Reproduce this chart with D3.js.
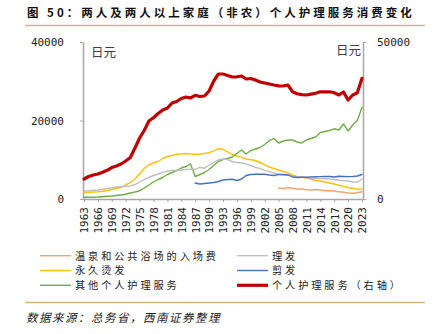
<!DOCTYPE html>
<html>
<head>
<meta charset="utf-8">
<script src="https://cdn.jsdelivr.net/npm/d3@7"></script>
<style>
  html, body { margin: 0; padding: 0; background: #fff; }
  svg { display: block; }
  .axis path, .axis line { stroke: #a6a6a6; }
  .axis text { font-family: "DejaVu Sans Mono", monospace; font-size: 11px; fill: #222; }
</style>
</head>
<body>
<div id="chart"></div>
<script>
"use strict";

// years on the category axis
var years = d3.range(1963, 2024);
var tickYears = years.filter(function(y) { return (y - 1963) % 3 === 0; });

// 日元; each series starts at its own year
var bathStart = 2005;
var bath = [2730,2680,2850,2730,2550,2550,2370,2290,2420,2290,2110,2090,2040,1830,1710,1530,1480,1580,1860];

var haircutStart = 1963;
var haircut = [2040,2110,2220,2290,2470,2680,2850,3060,3160,3260,3310,3690,4330,4970,5530,5990,6370,6800,7140,7260,
  7260,7390,7520,7570,7570,8080,7820,8660,9300,9940,10190,10060,9550,9300,9170,8920,8540,8080,7720,7310,
  6960,6620,6290,6120,6070,5860,5660,5530,5430,5300,5220,5220,5170,5100,4970,4770,4710,4590,4330,4280,5100];

var permStart = 1963;
var perm = [1660,1710,1780,1860,1990,2170,2420,2680,2980,3570,4200,5100,6370,7770,8710,9170,9550,10320,10830,11080,
  11420,11470,11590,11470,11390,11390,11640,11800,12230,12870,12610,11980,11340,10960,10620,10190,10010,9810,9300,8740,
  8150,7770,7390,7010,6680,6120,5730,5610,5350,5020,4710,4590,4330,4080,3820,3490,3240,2880,2730,2550,2470];

var cutStart = 1987;
var cut = [4080,3820,3950,4080,4200,4460,4840,4970,5020,4710,5100,5990,6240,6290,6290,6290,6120,5990,6240,6240,
  6120,5610,5480,5530,5560,5610,5660,5690,5730,5730,5610,5790,5730,5690,5730,5860,6240];

var otherStart = 1963;
var other = [430,430,460,510,590,690,760,890,1020,1200,1530,1780,2110,2800,3570,4330,4970,5480,6240,6750,
  7260,7900,8280,8920,5730,6240,6750,7520,8540,9550,10060,10320,10700,11590,12480,11470,12360,12740,13120,13890,
  14900,15420,14270,14780,15030,15030,14520,14270,15030,15420,15800,16940,17200,17450,17890,17580,19110,17330,18850,20000,23360];

// right axis
var totalStart = 1963;
var total = [6370,7170,7640,7960,8500,9140,10030,10510,11150,12100,13220,16240,19430,21820,24840,25890,27230,28350,28980,30580,
  31050,32010,32490,32170,33030,32650,32800,34400,37580,39810,39810,39330,38860,38920,39180,38220,38380,37900,37260,36950,
  36630,36310,36050,35990,36310,34180,33510,33250,33120,33380,33670,34140,34140,34140,33820,33120,34080,31530,33120,33820,38440];

var leftTicks = [0, 20000, 40000];
var rightTicks = [0, 50000];

var title = "图 50：两人及两人以上家庭（非农）个人护理服务消费变化";
var unitLabel = "日元";
var sourceText = "数据来源：总务省，西南证券整理";

var series = [
  {name: "温泉和公共浴场的入场费", start: bathStart, values: bath, color: "#f4a26b", width: 1.4, axis: "left"},
  {name: "永久烫发", start: permStart, values: perm, color: "#ffc000", width: 1.4, axis: "left"},
  {name: "其他个人护理服务", start: otherStart, values: other, color: "#70ad47", width: 1.4, axis: "left"},
  {name: "理发", start: haircutStart, values: haircut, color: "#bfbfbf", width: 1.4, axis: "left"},
  {name: "剪发", start: cutStart, values: cut, color: "#4472c4", width: 1.4, axis: "left"},
  {name: "个人护理服务（右轴）", start: totalStart, values: total, color: "#c00000", width: 3.2, axis: "right"}
];

var W = 434, H = 334;
var svg = d3.select("#chart").append("svg")
  .attr("width", W)
  .attr("height", H);

var x = d3.scalePoint().domain(years).range([84, 362]);
var yL = d3.scaleLinear().domain([0, 40000]).range([199, 42]);
var yR = d3.scaleLinear().domain([0, 50000]).range([199, 42]);

// title + rules
svg.append("text")
  .attr("x", 27)
  .attr("y", 17)
  .attr("font-family", "'Noto Sans CJK SC', sans-serif")
  .attr("font-weight", "bold")
  .attr("font-size", 11.5)
  .attr("letter-spacing", 3)
  .attr("fill", "#111")
  .text(title);

svg.append("line")
  .attr("x1", 25).attr("x2", 425)
  .attr("y1", 25.5).attr("y2", 25.5)
  .attr("stroke", "#d4b483")
  .attr("stroke-width", 1.5);

svg.append("line")
  .attr("x1", 25).attr("x2", 425)
  .attr("y1", 302.5).attr("y2", 302.5)
  .attr("stroke", "#d4b483")
  .attr("stroke-width", 1.5);

// axes
var gl = svg.append("g")
  .attr("class", "axis")
  .attr("transform", "translate(83,0)")
  .call(d3.axisLeft(yL).tickValues(leftTicks).tickSize(3).tickPadding(16).tickSizeOuter(0).tickFormat(d3.format("d")));

var gr = svg.append("g")
  .attr("class", "axis")
  .attr("transform", "translate(363,0)")
  .call(d3.axisRight(yR).tickValues(rightTicks).tickSize(3).tickPadding(11).tickSizeOuter(0).tickFormat(d3.format("d")));

var gx = svg.append("g")
  .attr("class", "axis")
  .attr("transform", "translate(0,199)")
  .call(d3.axisBottom(x).tickValues(tickYears).tickSize(3).tickSizeOuter(0));
gx.select(".domain").attr("d", "M83,0.5H363");
gx.selectAll("text")
  .attr("transform", "rotate(-90)")
  .attr("text-anchor", "end")
  .attr("x", -8)
  .attr("y", 0)
  .attr("dy", "0.35em");

svg.selectAll(".axis .domain").attr("stroke-width", 1.5);

// unit labels
svg.append("text")
  .attr("x", 91).attr("y", 57)
  .attr("font-family", "'Noto Sans CJK SC', sans-serif")
  .attr("font-size", 12.5)
  .attr("fill", "#404040")
  .text(unitLabel);

svg.append("text")
  .attr("x", 361).attr("y", 55)
  .attr("text-anchor", "end")
  .attr("font-family", "'Noto Sans CJK SC', sans-serif")
  .attr("font-size", 12.5)
  .attr("fill", "#404040")
  .text(unitLabel);

// lines
series.forEach(function(s) {
  var yScale = s.axis === "right" ? yR : yL;
  var pts = s.values.map(function(v, i) { return {year: s.start + i, value: v}; });
  var line = d3.line()
    .x(function(d) { return x(d.year); })
    .y(function(d) { return yScale(d.value); });
  svg.append("path")
    .datum(pts)
    .attr("fill", "none")
    .attr("stroke", s.color)
    .attr("stroke-width", s.width)
    .attr("stroke-linejoin", "round")
    .attr("stroke-linecap", "round")
    .attr("d", line);
});

// legend, two columns
var legendOrder = [
  [series[0], series[3]],
  [series[1], series[4]],
  [series[2], series[5]]
];
var colX = [40, 237];
var rowY = [255.7, 270.5, 285.3];
legendOrder.forEach(function(row, r) {
  row.forEach(function(s, c) {
    var g = svg.append("g").attr("transform", "translate(" + colX[c] + "," + rowY[r] + ")");
    g.append("line")
      .attr("x1", 0).attr("x2", 31)
      .attr("y1", 0).attr("y2", 0)
      .attr("stroke", s.color)
      .attr("stroke-width", s.width);
    g.append("text")
      .attr("x", 35)
      .attr("y", 3.8)
      .attr("font-family", "'Noto Sans CJK SC', sans-serif")
      .attr("font-size", 10.2)
      .attr("letter-spacing", 2.9)
      .attr("fill", "#222")
      .text(s.name);
  });
});

// source
svg.append("text")
  .attr("x", 26)
  .attr("y", 322)
  .attr("font-family", "'Noto Sans CJK SC', sans-serif")
  .attr("font-size", 11.5)
  .attr("font-style", "italic")
  .attr("letter-spacing", 1.5)
  .attr("fill", "#222")
  .text(sourceText);
</script>
</body>
</html>
